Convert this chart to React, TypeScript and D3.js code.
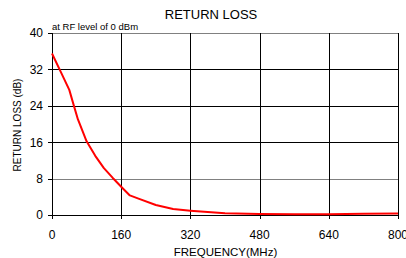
import React from "react";
import * as d3 from "d3";

const freqs = [0, 20, 40, 50, 60, 80, 100, 120, 140, 160, 180, 200, 240, 280, 320, 360, 400, 480, 560, 640, 720, 800];
const lossDb = [35.5, 31.5, 27.5, 24.2, 21, 16.2, 13, 10.3, 8.2, 6.2, 4.3, 3.6, 2.2, 1.3, 0.95, 0.65, 0.4, 0.2, 0.15, 0.15, 0.3, 0.35];
const xTicks = [0, 160, 320, 480, 640, 800];
const yTicks = [0, 8, 16, 24, 32, 40];
const grayLines = [8, 40];

const W = 406, H = 258;
const L = 52, R = 398, T = 33, B = 215;
const font = "'Liberation Sans', Arial, sans-serif";

export default function App() {
  const x = d3.scaleLinear().domain([0, 800]).range([L, R]);
  const y = d3.scaleLinear().domain([0, 40]).range([B, T]);
  const line = d3.line<number>().x((_, i) => x(freqs[i])).y((d) => y(d));
  const px = (v: number) => Math.round(v) + 0.5;
  return (
    <svg width={W} height={H} style={{ position: "absolute", left: 0, top: 0, background: "#fff" }}>
      <rect x={0} y={0} width={W} height={H} fill="#fff" />
      {yTicks.filter((t) => t > 0).map((t) => (
        <line key={"h" + t} x1={L} x2={R} y1={px(y(t))} y2={px(y(t))}
          stroke={grayLines.includes(t) ? "#808080" : "#000"} strokeWidth={1} />
      ))}
      {xTicks.filter((t) => t > 0).map((t) => (
        <line key={"v" + t} x1={px(x(t))} x2={px(x(t))} y1={T} y2={B + 4} stroke="#000" strokeWidth={1} />
      ))}
      <line x1={px(L)} x2={px(L)} y1={T} y2={B + 4} stroke="#000" />
      <line x1={L - 4} x2={R} y1={px(B)} y2={px(B)} stroke="#000" />
      {yTicks.map((t) => (
        <line key={"yt" + t} x1={L - 4} x2={L} y1={px(y(t))} y2={px(y(t))} stroke="#000" />
      ))}
      <path d={line(lossDb) || ""} fill="none" stroke="#ff0000" strokeWidth={2} strokeLinejoin="round" />
      {yTicks.map((t) => (
        <text key={"yl" + t} x={43} y={y(t) + 4.3} textAnchor="end" fontFamily={font} fontSize={12}>{t}</text>
      ))}
      {xTicks.map((t) => (
        <text key={"xl" + t} x={x(t)} y={239.3} textAnchor="middle" fontFamily={font} fontSize={12}>{t}</text>
      ))}
      <text x={211} y={18.5} textAnchor="middle" fontFamily={font} fontSize={13}>RETURN LOSS</text>
      <text x={52} y={30} fontFamily={font} fontSize={9.5}>at RF level of 0 dBm</text>
      <text x={225.5} y={256} textAnchor="middle" fontFamily={font} fontSize={11.5}>FREQUENCY(MHz)</text>
      <text transform={`translate(21,125) rotate(-90)`} textAnchor="middle" fontFamily={font} fontSize={10}>RETURN LOSS (dB)</text>
    </svg>
  );
}
